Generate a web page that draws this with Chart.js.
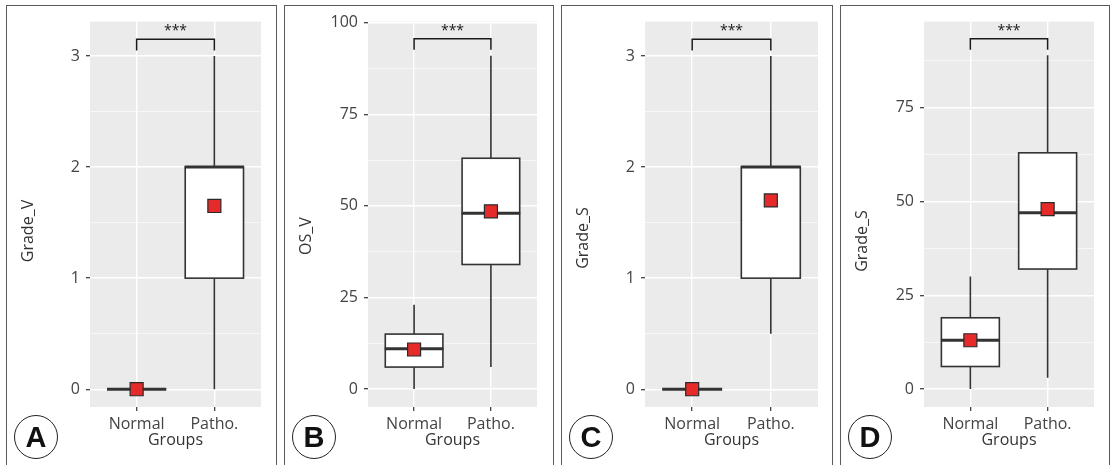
<!DOCTYPE html>
<html><head><meta charset="utf-8">
<script src="https://cdn.jsdelivr.net/npm/chart.js@4/dist/chart.umd.min.js"></script>
<style>
html,body{margin:0;padding:0;background:#fff;width:1111px;height:465px;overflow:hidden;position:relative;}
.panel{position:absolute;top:5px;height:470px;border:1px solid #5a5a5a;box-sizing:border-box;}
canvas{position:absolute;top:6px;}
.tag{position:absolute;width:44px;height:44px;border:1px solid #222;border-radius:50%;box-sizing:border-box;
 font:bold 29px "Liberation Sans",Arial,sans-serif;text-align:center;line-height:43px;color:#111;background:#fff;z-index:5;}
</style></head><body>
<script>
// ---------- data ----------
const groups = ['Normal', 'Patho.'];
const panelLetters = ['A', 'B', 'C', 'D'];
const yTitles = ['Grade_V', 'OS_V', 'Grade_S', 'Grade_S'];

// values per group: [Normal, Patho.]
const A_whiskerLow = [0, 0];
const A_q1 = [0, 1];
const A_median = [0, 2];
const A_q3 = [0, 2];
const A_whiskerHigh = [0, 3];
const A_mean = [0, 1.65];

const B_whiskerLow = [0, 6];
const B_q1 = [6, 34];
const B_median = [11, 48];
const B_q3 = [15, 63];
const B_whiskerHigh = [23, 91];
const B_mean = [10.8, 48.5];

const C_whiskerLow = [0, 0.5];
const C_q1 = [0, 1];
const C_median = [0, 2];
const C_q3 = [0, 2];
const C_whiskerHigh = [0, 3];
const C_mean = [0, 1.7];

const D_whiskerLow = [0, 3];
const D_q1 = [6, 32];
const D_median = [13, 47];
const D_q3 = [19, 63];
const D_whiskerHigh = [30, 89];
const D_mean = [13, 48];

// significance bracket: [top of bracket, bottom of its legs]
const A_bracket = [3.15, 3.05];
const B_bracket = [95.6, 92.6];
const C_bracket = [3.15, 3.05];
const D_bracket = [93.4, 90.5];
const sigLabel = '***';

// tick labels
const A_yTicks = [0, 1, 2, 3];
const B_yTicks = [0, 25, 50, 75, 100];
const C_yTicks = [0, 1, 2, 3];
const D_yTicks = [0, 25, 50, 75];
const A_yMinor = [0.5, 1.5, 2.5];
const B_yMinor = [12.5, 37.5, 62.5, 87.5];
const C_yMinor = [0.5, 1.5, 2.5];
const D_yMinor = [12.5, 37.5, 62.5, 87.5];
const A_yRange = [-0.16, 3.31];
const B_yRange = [-4.9, 100.3];
const C_yRange = [-0.16, 3.31];
const D_yRange = [-4.8, 98.0];

// ---------- layout (page geometry, not data) ----------
const layoutCfg = [
  {left: 6,   right: 276, plotRight: 261,  yTitleY: 231},
  {left: 284, right: 553, plotRight: 537,  yTitleY: 236},
  {left: 561, right: 832, plotRight: 818,  yTitleY: 238},
  {left: 840, right: 1109, plotRight: 1094, yTitleY: 241}
];

const panels = [
  {lo: A_whiskerLow, q1: A_q1, med: A_median, q3: A_q3, hi: A_whiskerHigh, mean: A_mean, br: A_bracket, ticks: A_yTicks, minor: A_yMinor, range: A_yRange},
  {lo: B_whiskerLow, q1: B_q1, med: B_median, q3: B_q3, hi: B_whiskerHigh, mean: B_mean, br: B_bracket, ticks: B_yTicks, minor: B_yMinor, range: B_yRange},
  {lo: C_whiskerLow, q1: C_q1, med: C_median, q3: C_q3, hi: C_whiskerHigh, mean: C_mean, br: C_bracket, ticks: C_yTicks, minor: C_yMinor, range: C_yRange},
  {lo: D_whiskerLow, q1: D_q1, med: D_median, q3: D_q3, hi: D_whiskerHigh, mean: D_mean, br: D_bracket, ticks: D_yTicks, minor: D_yMinor, range: D_yRange}
];

const FONT = '"Open Sans", "DejaVu Sans", sans-serif';
const INK = '#333333';

panels.forEach((p, i) => {
  const L = layoutCfg[i];
  const div = document.createElement('div');
  div.className = 'panel';
  div.style.left = L.left + 'px';
  div.style.width = (L.right - L.left + 1) + 'px';
  document.body.appendChild(div);

  const cw = L.right - L.left - 1, ch = 459;
  const cv = document.createElement('canvas');
  cv.width = cw; cv.height = ch;
  cv.style.left = (L.left + 1) + 'px';
  cv.style.width = cw + 'px'; cv.style.height = ch + 'px';
  document.body.appendChild(cv);

  const tag = document.createElement('div');
  tag.className = 'tag';
  tag.textContent = panelLetters[i];
  tag.style.left = (L.left + 30 - 22) + 'px';
  tag.style.top = (437 - 22) + 'px';
  document.body.appendChild(tag);

  const isMajor = v => p.ticks.includes(v);
  const allTicks = p.ticks.concat(p.minor).sort((a, b) => a - b);

  const boxPlugin = {
    id: 'boxes' + i,
    beforeDraw(chart) {
      const {ctx, chartArea: a} = chart;
      ctx.save();
      ctx.fillStyle = '#EBEBEB';
      ctx.fillRect(a.left, a.top, a.right - a.left, a.bottom - a.top);
      ctx.restore();
    },
    beforeDatasetsDraw(chart) {
      const {ctx} = chart;
      const xs = chart.scales.x, ys = chart.scales.y;
      ctx.save();
      ctx.strokeStyle = INK;
      ctx.lineCap = 'butt';
      groups.forEach((g, k) => {
        const xc = xs.getPixelForValue(k + 1);
        const x0 = xs.getPixelForValue(k + 1 - 0.375);
        const x1 = xs.getPixelForValue(k + 1 + 0.375);
        // whiskers
        ctx.lineWidth = 1.6;
        ctx.beginPath();
        ctx.moveTo(xc, ys.getPixelForValue(p.lo[k]));
        ctx.lineTo(xc, ys.getPixelForValue(p.q1[k]));
        ctx.moveTo(xc, ys.getPixelForValue(p.q3[k]));
        ctx.lineTo(xc, ys.getPixelForValue(p.hi[k]));
        ctx.stroke();
        // box
        const yq1 = ys.getPixelForValue(p.q1[k]), yq3 = ys.getPixelForValue(p.q3[k]);
        ctx.fillStyle = '#ffffff';
        ctx.fillRect(x0, yq3, x1 - x0, yq1 - yq3);
        ctx.lineWidth = 1.6;
        ctx.strokeRect(x0, yq3, x1 - x0, yq1 - yq3);
        // median
        const ym = ys.getPixelForValue(p.med[k]);
        ctx.lineWidth = 3;
        ctx.beginPath();
        ctx.moveTo(x0 - 0.5, ym);
        ctx.lineTo(x1 + 0.5, ym);
        ctx.stroke();
      });
      // significance bracket
      const bx0 = xs.getPixelForValue(1), bx1 = xs.getPixelForValue(2);
      const byTop = ys.getPixelForValue(p.br[0]), byEnd = ys.getPixelForValue(p.br[1]);
      ctx.strokeStyle = '#1a1a1a';
      ctx.lineWidth = 1.5;
      ctx.beginPath();
      ctx.moveTo(bx0, byEnd);
      ctx.lineTo(bx0, byTop);
      ctx.lineTo(bx1, byTop);
      ctx.lineTo(bx1, byEnd);
      ctx.stroke();
      ctx.fillStyle = '#1a1a1a';
      ctx.font = '14px ' + FONT;
      ctx.textAlign = 'center';
      ctx.textBaseline = 'alphabetic';
      ctx.fillText(sigLabel, (bx0 + bx1) / 2, byTop - 4);
      ctx.restore();
    },
    afterDraw(chart) {
      const {ctx} = chart;
      ctx.save();
      ctx.translate(22 - 1, L.yTitleY - 6);
      ctx.rotate(-Math.PI / 2);
      ctx.fillStyle = INK;
      ctx.font = '16px ' + FONT;
      ctx.textAlign = 'center';
      ctx.textBaseline = 'middle';
      ctx.fillText(yTitles[i], 0, 0);
      ctx.restore();
    }
  };

  new Chart(cv, {
    type: 'scatter',
    data: {
      datasets: [{
        data: p.mean.map((m, k) => ({x: k + 1, y: m})),
        pointStyle: 'rect',
        pointRadius: 9.2,
        pointHoverRadius: 9.2,
        backgroundColor: '#E62A2A',
        borderColor: '#2a2a2a',
        borderWidth: 1.2,
        clip: false
      }]
    },
    options: {
      responsive: false,
      animation: false,
      events: [],
      layout: {padding: {left: 0, top: 14, bottom: 0, right: cw - (L.plotRight - (L.left + 1))}},
      plugins: {legend: {display: false}, tooltip: {enabled: false}},
      scales: {
        x: {
          type: 'linear', min: 0.4, max: 2.6,
          afterBuildTicks: s => { s.ticks = groups.map((g, k) => ({value: k + 1})); },
          afterFit: s => { s.height = 58; },
          ticks: {
            callback: (v, idx) => groups[idx],
            font: {family: FONT, size: 16}, color: '#444', padding: 4,
            maxRotation: 0, autoSkip: false
          },
          grid: {color: '#ffffff', lineWidth: 1.4, tickLength: 4, tickColor: INK, tickWidth: 1.2, drawTicks: true},
          border: {display: false},
          title: {display: true, text: 'Groups', font: {family: FONT, size: 16}, color: INK, padding: {top: 0, bottom: 15}}
        },
        y: {
          type: 'linear', min: p.range[0], max: p.range[1],
          afterBuildTicks: s => { s.ticks = allTicks.map(v => ({value: v})); },
          afterFit: s => { s.width = 83; },
          ticks: {
            callback: v => isMajor(v) ? String(v) : '',
            font: {family: FONT, size: 16}, color: '#444', padding: 6, autoSkip: false
          },
          grid: {
            color: '#ffffff',
            lineWidth: c => (c.tick && isMajor(c.tick.value)) ? 1.4 : 0.6,
            tickLength: 4,
            tickWidth: 1.2,
            tickColor: c => (c.tick && isMajor(c.tick.value)) ? INK : 'rgba(0,0,0,0)'
          },
          border: {display: false},
          title: {display: false}
        }
      }
    },
    plugins: [boxPlugin]
  });
});
</script>
</body></html>
